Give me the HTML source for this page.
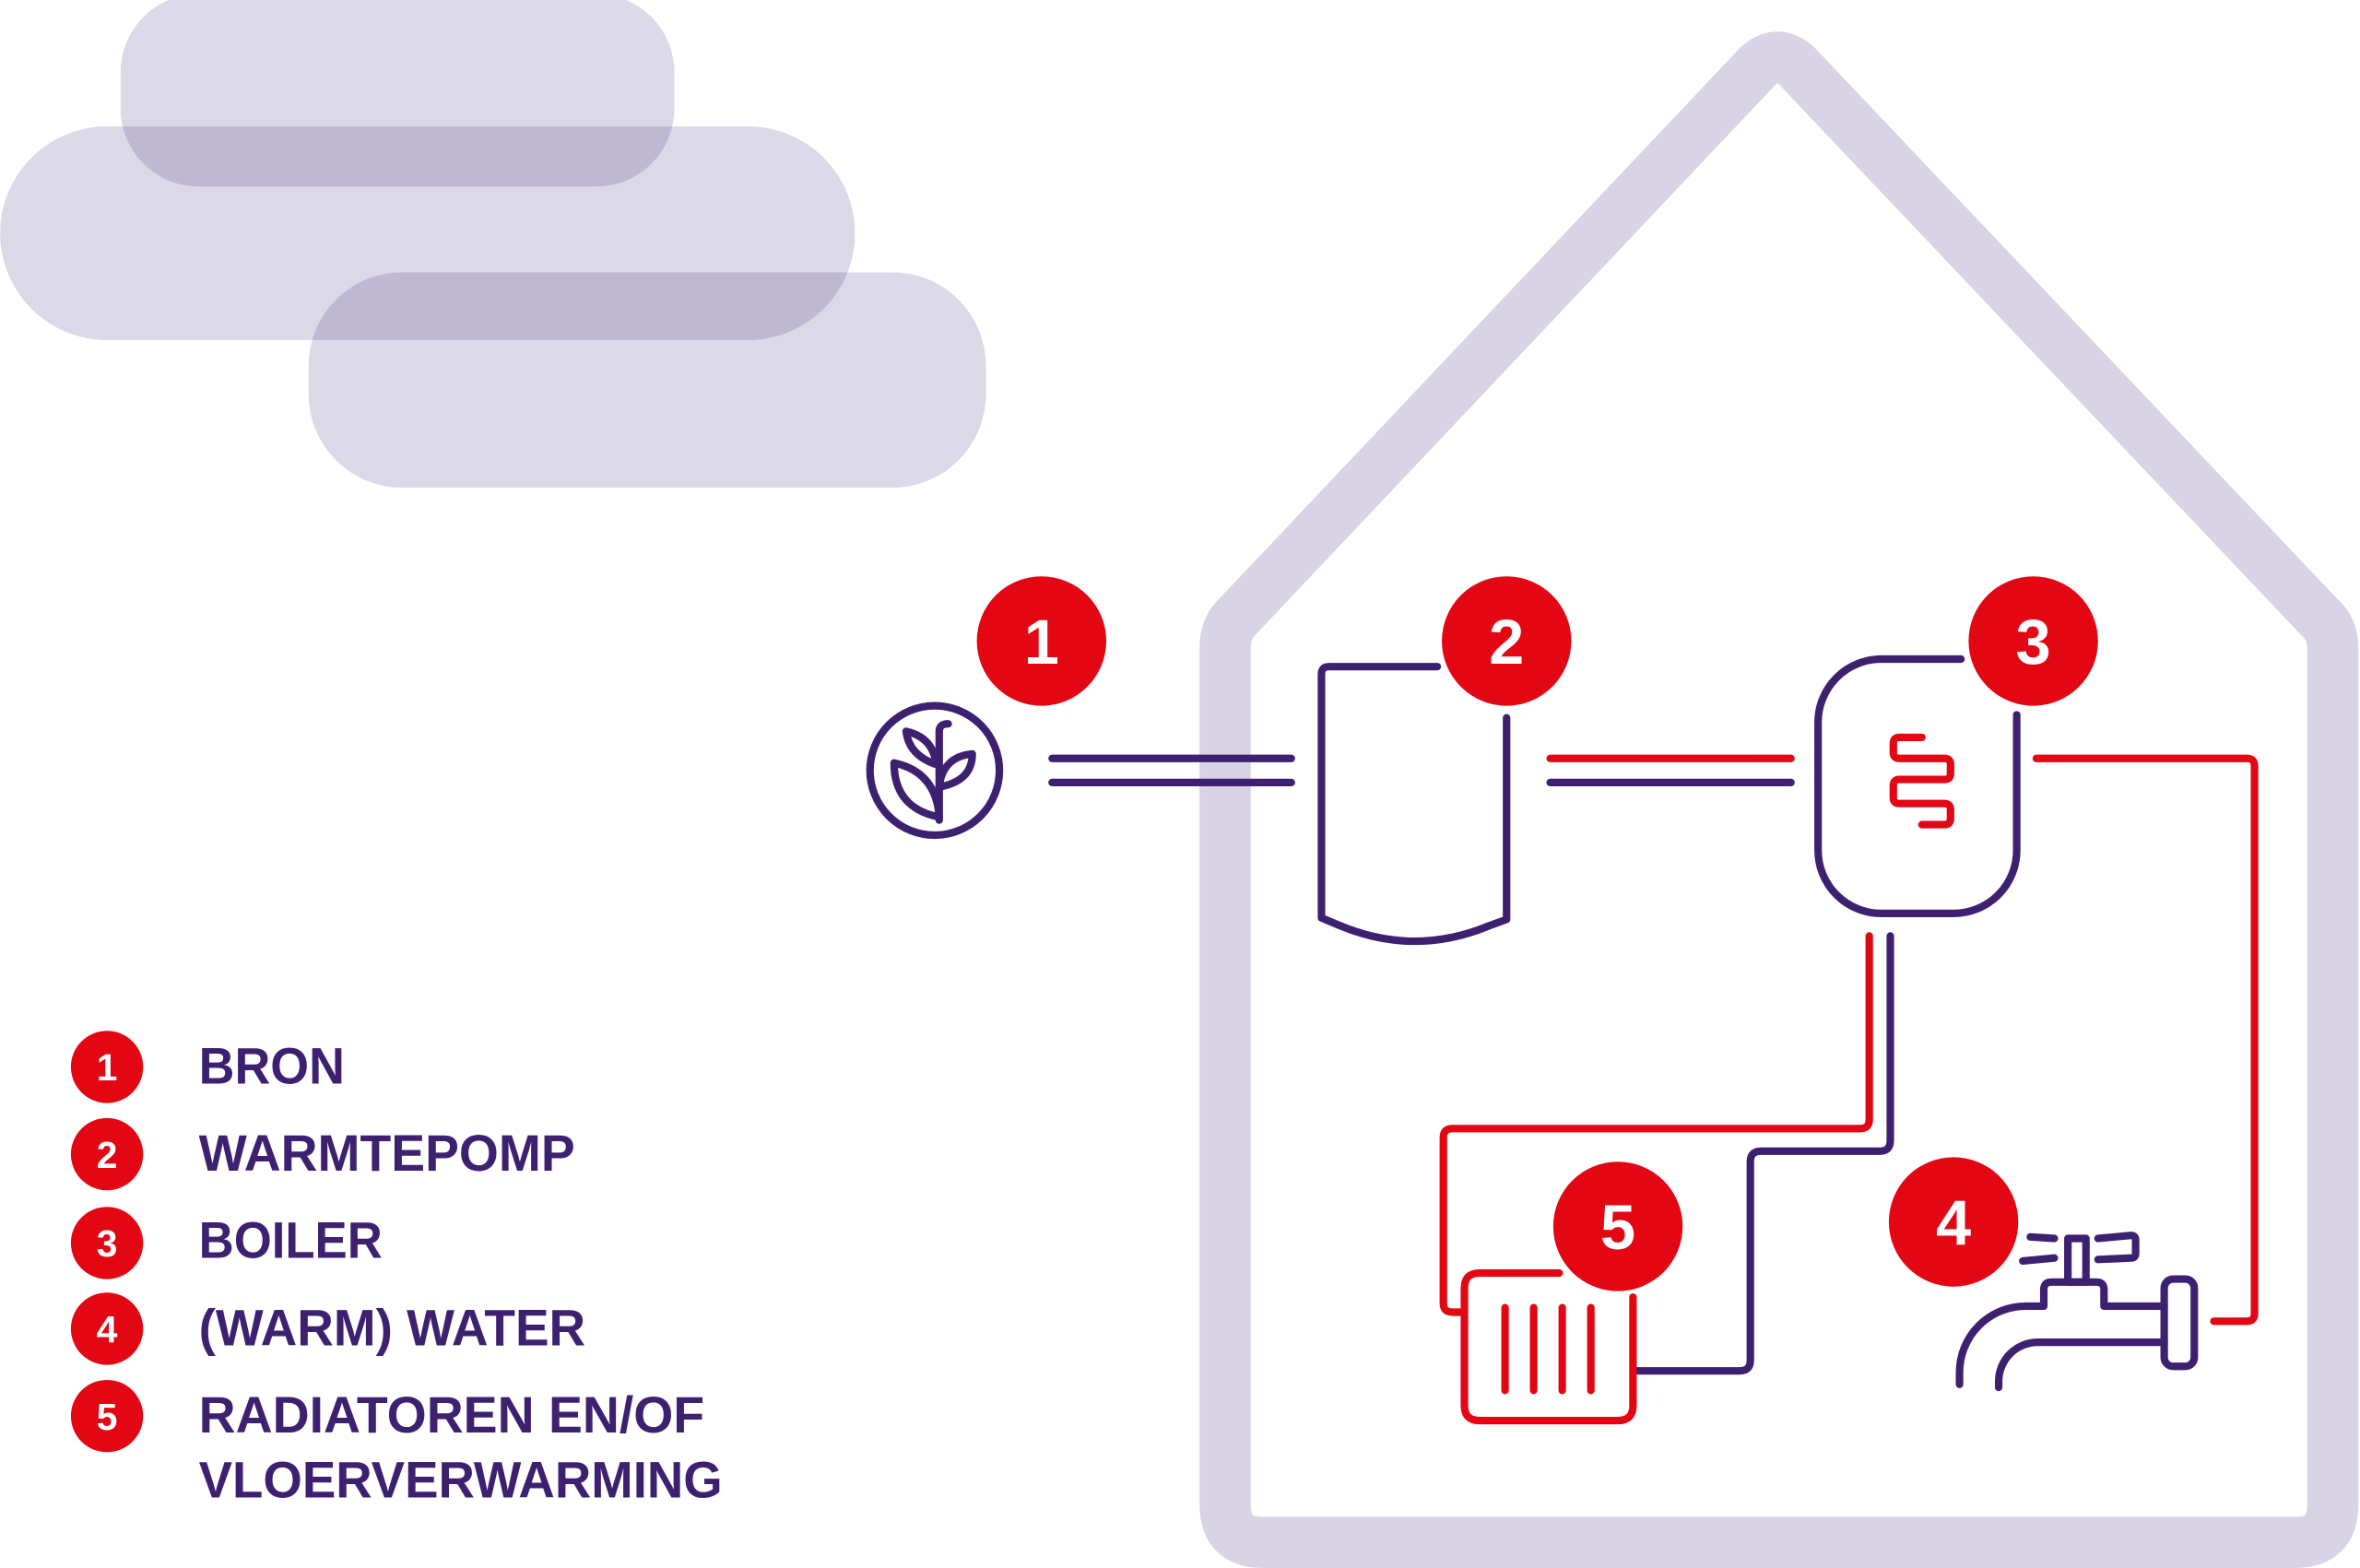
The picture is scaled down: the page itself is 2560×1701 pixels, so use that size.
<!DOCTYPE html>
<html><head><meta charset="utf-8"><style>
html,body{margin:0;padding:0;background:#fff;}
svg{display:block;}
</style></head><body>
<svg width="2560" height="1701" viewBox="0 0 1568 1042" xmlns="http://www.w3.org/2000/svg">
<g fill="#4b3a85" fill-opacity="0.2">
<rect x="80" y="-4" width="368" height="128" rx="52"/>
<rect x="0" y="84" width="568" height="142" rx="71"/>
<rect x="205" y="181" width="450" height="143" rx="62"/>
</g>
<path d="M814,1000 V430 Q814,418 822,410 L1168,44 Q1181,32 1194,44 L1541,410 Q1550,418 1550,430 V1000 Q1550,1025 1525,1025 H839 Q814,1025 814,1000 Z" fill="none" stroke="#d9d3e6" stroke-width="34" stroke-linejoin="round"/>
<g fill="none" stroke="#3d2170" stroke-width="5" stroke-linecap="round" stroke-linejoin="round">
<circle cx="621" cy="512" r="43"/>
<path d="M624,545 V486 q0,-5 6,-5"/>
<path d="M624,543 q-2,-30 -30,-36 q0,30 30,36"/>
<path d="M624,523 q2,-20 22,-22 q0,18 -22,22"/>
<path d="M622,508 q-2,-18 -20,-22 q2,16 20,22"/>
<line x1="699" y1="504" x2="858" y2="504"/>
<line x1="699" y1="520" x2="858" y2="520"/>
<path d="M955,443 H883 q-5,0 -5,5 V610 l12,5 Q940,636 990,615 l11,-4 V477"/>
<line x1="1030" y1="520" x2="1190" y2="520"/>
<path d="M1303,438 H1250 A42,42 0 0 0 1208,480 V565 A42,42 0 0 0 1250,607 H1298 A42,42 0 0 0 1340,565 V475"/>
<path d="M1256,622 V758 q0,7 -7,7 H1170 q-7,0 -7,7 V904 q0,7 -7,7 H1087"/>
<path d="M1302,920 V912 A44,44 0 0 1 1346,868 H1358 V857 q0,-5 5,-5 H1393 q5,0 5,5 V868 H1438"/>
<path d="M1328,922 V918 A26,26 0 0 1 1354,892 H1438"/>
<rect x="1438" y="850" width="20" height="58" rx="6"/>
<rect x="1374" y="823" width="12" height="29"/>
<line x1="1349" y1="822" x2="1365" y2="823"/>
<line x1="1344" y1="838" x2="1365" y2="836"/>
<path d="M1394,823 L1416,821 q3,0 3,3 V833 q0,3 -3,3 L1394,837"/>
</g>
<g fill="none" stroke="#e30613" stroke-width="5" stroke-linecap="round" stroke-linejoin="round">
<line x1="1030" y1="504" x2="1190" y2="504"/>
<path d="M1353,504 H1493 q5,0 5,5 V873 q0,5 -5,5 H1471"/>
<path d="M1242,622 V744 q0,6 -6,6 H965 q-6,0 -6,6 V866 q0,6 6,6 H972"/>
<path d="M1036,846 H983 q-10,0 -10,10 V934 q0,10 10,10 H1075 q10,0 10,-10 V862"/>
<line x1="1000" y1="869" x2="1000" y2="924"/>
<line x1="1019" y1="869" x2="1019" y2="924"/>
<line x1="1038" y1="869" x2="1038" y2="924"/>
<line x1="1057" y1="869" x2="1057" y2="924"/>
<path d="M1277,490 H1262 q-4,0 -4,4 V500 q0,4 4,4 H1292 q4,0 4,4 V514 q0,4 -4,4 H1262 q-4,0 -4,4 V530 q0,4 4,4 H1292 q4,0 4,4 V544 q0,4 -4,4 H1277"/>
</g>
<g fill="#e30613">
<circle cx="692" cy="426" r="43"/>
<circle cx="1001" cy="426" r="43"/>
<circle cx="1351" cy="426" r="43"/>
<circle cx="1075" cy="815" r="43"/>
<circle cx="1298" cy="812" r="43"/>
<circle cx="71" cy="709" r="24"/>
<circle cx="71" cy="767" r="24"/>
<circle cx="71" cy="826" r="24"/>
<circle cx="71" cy="883" r="24"/>
<circle cx="71" cy="941" r="24"/>
</g>
<g fill="#fff" font-family="Liberation Sans, sans-serif" font-weight="bold" text-anchor="middle">
<text x="692" y="441" font-size="42">1</text>
<text x="1001" y="441" font-size="42">2</text>
<text x="1351" y="441" font-size="42">3</text>
<text x="1075" y="830" font-size="42">5</text>
<text x="1298" y="827" font-size="42">4</text>
<text x="71" y="718" font-size="25">1</text>
<text x="71" y="776" font-size="25">2</text>
<text x="71" y="835" font-size="25">3</text>
<text x="71" y="892" font-size="25">4</text>
<text x="71" y="950" font-size="25">5</text>
</g>
<g fill="#3d2170" font-family="Liberation Sans, sans-serif" font-weight="bold" font-size="34">
<text x="132" y="720" textLength="97" lengthAdjust="spacingAndGlyphs">BRON</text>
<text x="132" y="778" textLength="250" lengthAdjust="spacingAndGlyphs">WARMTEPOMP</text>
<text x="132" y="836" textLength="122" lengthAdjust="spacingAndGlyphs">BOILER</text>
<text x="132" y="894" textLength="257" lengthAdjust="spacingAndGlyphs">(WARM) WATER</text>
<text x="132" y="952" textLength="336" lengthAdjust="spacingAndGlyphs">RADIATOREN EN/OF</text>
<text x="132" y="995" textLength="348" lengthAdjust="spacingAndGlyphs">VLOERVERWARMING</text>
</g>
</svg>
</body></html>
